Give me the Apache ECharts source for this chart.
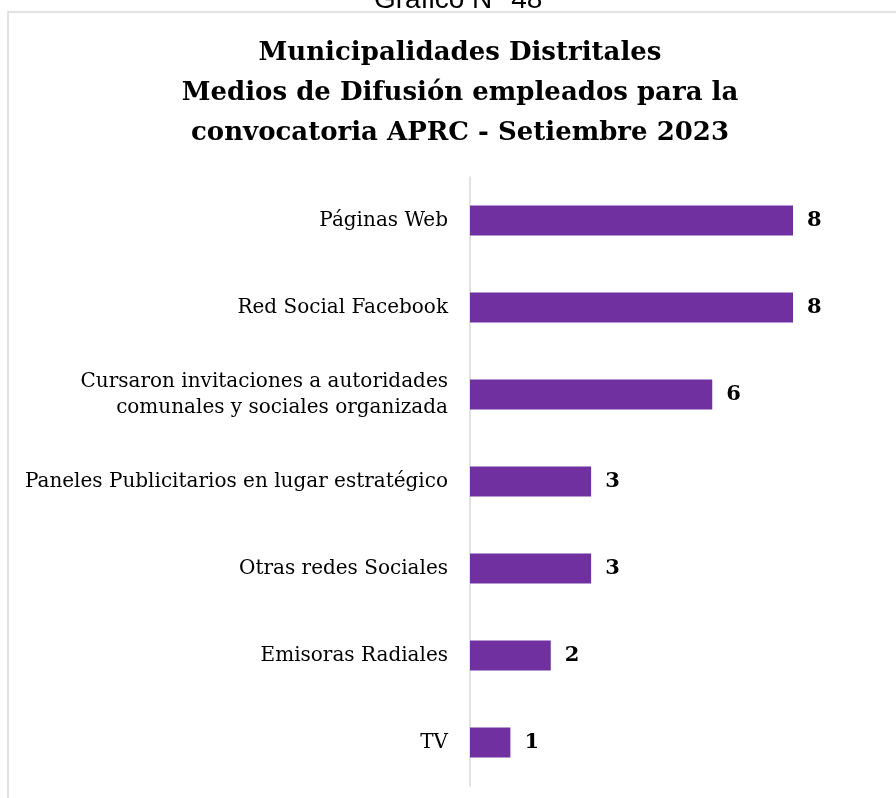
<!DOCTYPE html>
<html>
<head>
<meta charset="utf-8">
<script src="https://cdn.jsdelivr.net/npm/echarts@6/dist/echarts.min.js"></script>
<style>
  html, body { margin: 0; padding: 0; background: #fff; }
  #main { width: 896px; height: 798px; }
</style>
</head>
<body>
<div id="main"></div>
<script>
var categories = [
  'Páginas Web',
  'Red Social Facebook',
  'Cursaron invitaciones a autoridades\ncomunales y sociales organizada',
  'Paneles Publicitarios en lugar estratégico',
  'Otras redes Sociales',
  'Emisoras Radiales',
  'TV'
];
var values = [8, 8, 6, 3, 3, 2, 1];

var myChart = echarts.init(document.getElementById('main'));

var option = {
  backgroundColor: '#fff',
  title: {
    text: 'Municipalidades Distritales\nMedios de Difusión empleados para la\nconvocatoria APRC - Setiembre 2023',
    left: 455,
    textAlign: 'center',
    top: 28,
    textStyle: {
      fontFamily: 'DejaVu Serif',
      fontWeight: 'bold',
      fontSize: 26,
      lineHeight: 40,
      color: '#000'
    }
  },
  graphic: [
    {
      type: 'rect',
      shape: { x: 8, y: 12, width: 900, height: 800 },
      style: { fill: 'none', stroke: '#d9d9d9', lineWidth: 1.5 },
      silent: true
    },
    {
      type: 'text',
      left: 374,
      top: -14,
      style: { text: 'Gráfico N° 48', font: '28px "Liberation Sans"', fill: '#000' }
    }
  ],
  grid: { left: 470, top: 177, width: 323, bottom: 12 },
  xAxis: {
    type: 'value',
    min: 0,
    max: 8,
    show: false
  },
  yAxis: {
    type: 'category',
    inverse: true,
    data: categories,
    axisLine: { show: true, lineStyle: { color: '#d9d9d9', width: 1.5 } },
    axisTick: { show: false },
    axisLabel: {
      margin: 22,
      fontFamily: 'DejaVu Serif',
      fontSize: 20,
      lineHeight: 26,
      color: '#000',
      align: 'right'
    }
  },
  series: [
    {
      type: 'bar',
      data: values,
      barWidth: 30,
      itemStyle: { color: '#7030a0' },
      label: {
        show: true,
        position: 'right',
        distance: 14,
        fontFamily: 'DejaVu Serif',
        fontWeight: 'bold',
        fontSize: 21,
        color: '#000'
      }
    }
  ]
};

myChart.setOption(option);
</script>
</body>
</html>
